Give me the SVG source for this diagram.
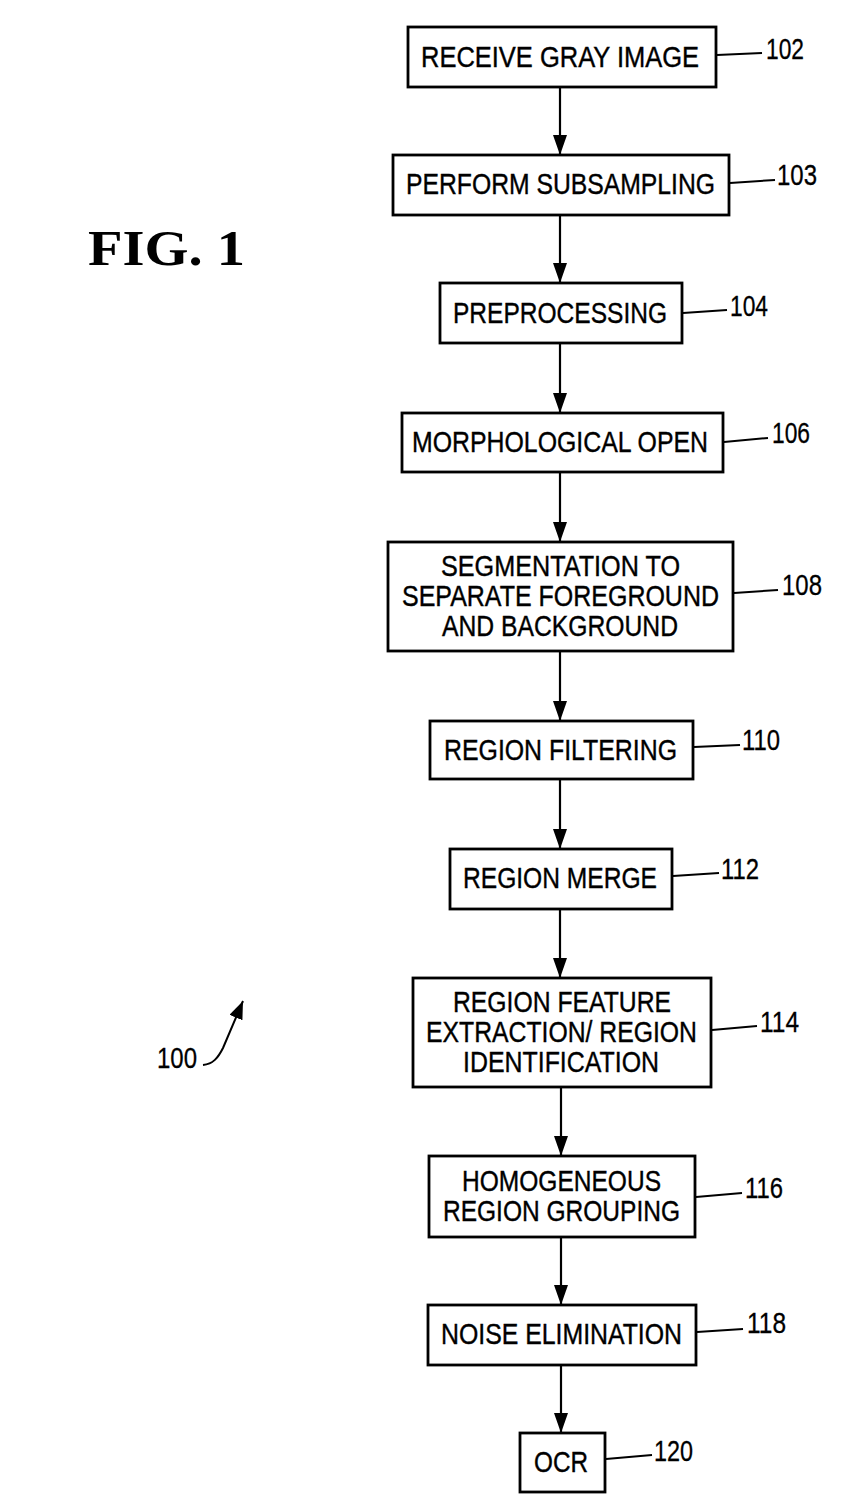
<svg xmlns="http://www.w3.org/2000/svg" width="864" height="1511" viewBox="0 0 864 1511">
<style>
.box{fill:#fff;stroke:#000;stroke-width:2.8}
.t{font-family:"Liberation Sans",Arial,sans-serif;font-size:30px;fill:#000;stroke:#000;stroke-width:0.4}
.n{font-family:"Liberation Sans",Arial,sans-serif;font-size:29px;fill:#000;stroke:#000;stroke-width:0.3}
.ld{fill:none;stroke:#000;stroke-width:2}
.c{stroke:#000;stroke-width:2.2;fill:none}
.fig{font-family:"Liberation Serif","Times New Roman",serif;font-weight:bold;font-size:50px;fill:#000}
</style>
<defs>
<marker id="ah" markerWidth="20" markerHeight="14" refX="20" refY="7" orient="auto" markerUnits="userSpaceOnUse" viewBox="0 0 20 14">
<path d="M0,0 L20,7 L0,14 Z" fill="#000"/>
</marker>
<marker id="ah2" markerWidth="18" markerHeight="14" refX="18" refY="7" orient="auto" markerUnits="userSpaceOnUse" viewBox="0 0 18 14">
<path d="M0,0 L18,7 L0,14 Z" fill="#000"/>
</marker>
</defs>
<rect width="864" height="1511" fill="#fff"/>
<text class="fig" x="88" y="265" textLength="157" lengthAdjust="spacingAndGlyphs">FIG. 1</text>
<g id="connectors">
<line class="c" x1="560" y1="87" x2="560" y2="155" marker-end="url(#ah)"/>
<line class="c" x1="560" y1="215" x2="560" y2="283" marker-end="url(#ah)"/>
<line class="c" x1="560" y1="343" x2="560" y2="413" marker-end="url(#ah)"/>
<line class="c" x1="560" y1="472" x2="560" y2="542" marker-end="url(#ah)"/>
<line class="c" x1="560" y1="651" x2="560" y2="721" marker-end="url(#ah)"/>
<line class="c" x1="560" y1="779" x2="560" y2="849" marker-end="url(#ah)"/>
<line class="c" x1="560" y1="909" x2="560" y2="978" marker-end="url(#ah)"/>
<line class="c" x1="561" y1="1087" x2="561" y2="1156" marker-end="url(#ah)"/>
<line class="c" x1="561" y1="1237" x2="561" y2="1305" marker-end="url(#ah)"/>
<line class="c" x1="561" y1="1365" x2="561" y2="1433" marker-end="url(#ah)"/>
</g>
<g id="n102">
<rect class="box" x="408" y="27" width="308" height="60"/>
<text class="t" x="421" y="67" textLength="278" lengthAdjust="spacingAndGlyphs">RECEIVE  GRAY IMAGE</text>
<path class="ld" d="M717,55 L762,53"/>
<text class="n" x="766" y="59" textLength="38" lengthAdjust="spacingAndGlyphs">102</text>
</g>
<g id="n103">
<rect class="box" x="393" y="155" width="336" height="60"/>
<text class="t" x="406" y="194" textLength="309" lengthAdjust="spacingAndGlyphs">PERFORM SUBSAMPLING</text>
<path class="ld" d="M730,183 L775,180"/>
<text class="n" x="777" y="185" textLength="40" lengthAdjust="spacingAndGlyphs">103</text>
</g>
<g id="n104">
<rect class="box" x="440" y="283" width="242" height="60"/>
<text class="t" x="453" y="323" textLength="214" lengthAdjust="spacingAndGlyphs">PREPROCESSING</text>
<path class="ld" d="M683,313 L727,310"/>
<text class="n" x="730" y="316" textLength="38" lengthAdjust="spacingAndGlyphs">104</text>
</g>
<g id="n106">
<rect class="box" x="402" y="413" width="321" height="59"/>
<text class="t" x="412" y="452" textLength="296" lengthAdjust="spacingAndGlyphs">MORPHOLOGICAL OPEN</text>
<path class="ld" d="M724,442 L768,438"/>
<text class="n" x="772" y="443" textLength="38" lengthAdjust="spacingAndGlyphs">106</text>
</g>
<g id="n108">
<rect class="box" x="388" y="542" width="345" height="109"/>
<text class="t" x="441" y="576" textLength="239" lengthAdjust="spacingAndGlyphs">SEGMENTATION TO</text>
<text class="t" x="402" y="606" textLength="317" lengthAdjust="spacingAndGlyphs">SEPARATE FOREGROUND</text>
<text class="t" x="442" y="636" textLength="236" lengthAdjust="spacingAndGlyphs">AND BACKGROUND</text>
<path class="ld" d="M734,593 L778,590"/>
<text class="n" x="782" y="595" textLength="40" lengthAdjust="spacingAndGlyphs">108</text>
</g>
<g id="n110">
<rect class="box" x="430" y="721" width="263" height="58"/>
<text class="t" x="444" y="760" textLength="233" lengthAdjust="spacingAndGlyphs">REGION FILTERING</text>
<path class="ld" d="M694,747 L740,745"/>
<text class="n" x="742" y="750" textLength="38" lengthAdjust="spacingAndGlyphs">110</text>
</g>
<g id="n112">
<rect class="box" x="450" y="849" width="222" height="60"/>
<text class="t" x="463" y="888" textLength="194" lengthAdjust="spacingAndGlyphs">REGION MERGE</text>
<path class="ld" d="M673,876 L719,873"/>
<text class="n" x="721" y="879" textLength="38" lengthAdjust="spacingAndGlyphs">112</text>
</g>
<g id="n114">
<rect class="box" x="413" y="978" width="298" height="109"/>
<text class="t" x="453" y="1012" textLength="218" lengthAdjust="spacingAndGlyphs">REGION FEATURE</text>
<text class="t" x="426" y="1042" textLength="271" lengthAdjust="spacingAndGlyphs">EXTRACTION/ REGION</text>
<text class="t" x="463" y="1072" textLength="196" lengthAdjust="spacingAndGlyphs">IDENTIFICATION</text>
<path class="ld" d="M712,1030 L757,1026"/>
<text class="n" x="760" y="1032" textLength="39" lengthAdjust="spacingAndGlyphs">114</text>
</g>
<g id="n116">
<rect class="box" x="429" y="1156" width="266" height="81"/>
<text class="t" x="462" y="1191" textLength="199" lengthAdjust="spacingAndGlyphs">HOMOGENEOUS</text>
<text class="t" x="443" y="1221" textLength="237" lengthAdjust="spacingAndGlyphs">REGION GROUPING</text>
<path class="ld" d="M696,1197 L742,1193"/>
<text class="n" x="745" y="1198" textLength="38" lengthAdjust="spacingAndGlyphs">116</text>
</g>
<g id="n118">
<rect class="box" x="428" y="1305" width="268" height="60"/>
<text class="t" x="441" y="1344" textLength="241" lengthAdjust="spacingAndGlyphs">NOISE ELIMINATION</text>
<path class="ld" d="M697,1332 L743,1329"/>
<text class="n" x="747" y="1333" textLength="39" lengthAdjust="spacingAndGlyphs">118</text>
</g>
<g id="n120">
<rect class="box" x="520" y="1433" width="85" height="59"/>
<text class="t" x="534" y="1472" textLength="54" lengthAdjust="spacingAndGlyphs">OCR</text>
<path class="ld" d="M606,1459 L652,1455"/>
<text class="n" x="654" y="1461" textLength="39" lengthAdjust="spacingAndGlyphs">120</text>
</g>
<g id="ref100">
<text class="n" x="157" y="1068" textLength="40" lengthAdjust="spacingAndGlyphs">100</text>
<path class="ld" d="M203,1065 C213,1064 218,1058 223,1048 L243,1001" marker-end="url(#ah2)"/>
</g>
</svg>
